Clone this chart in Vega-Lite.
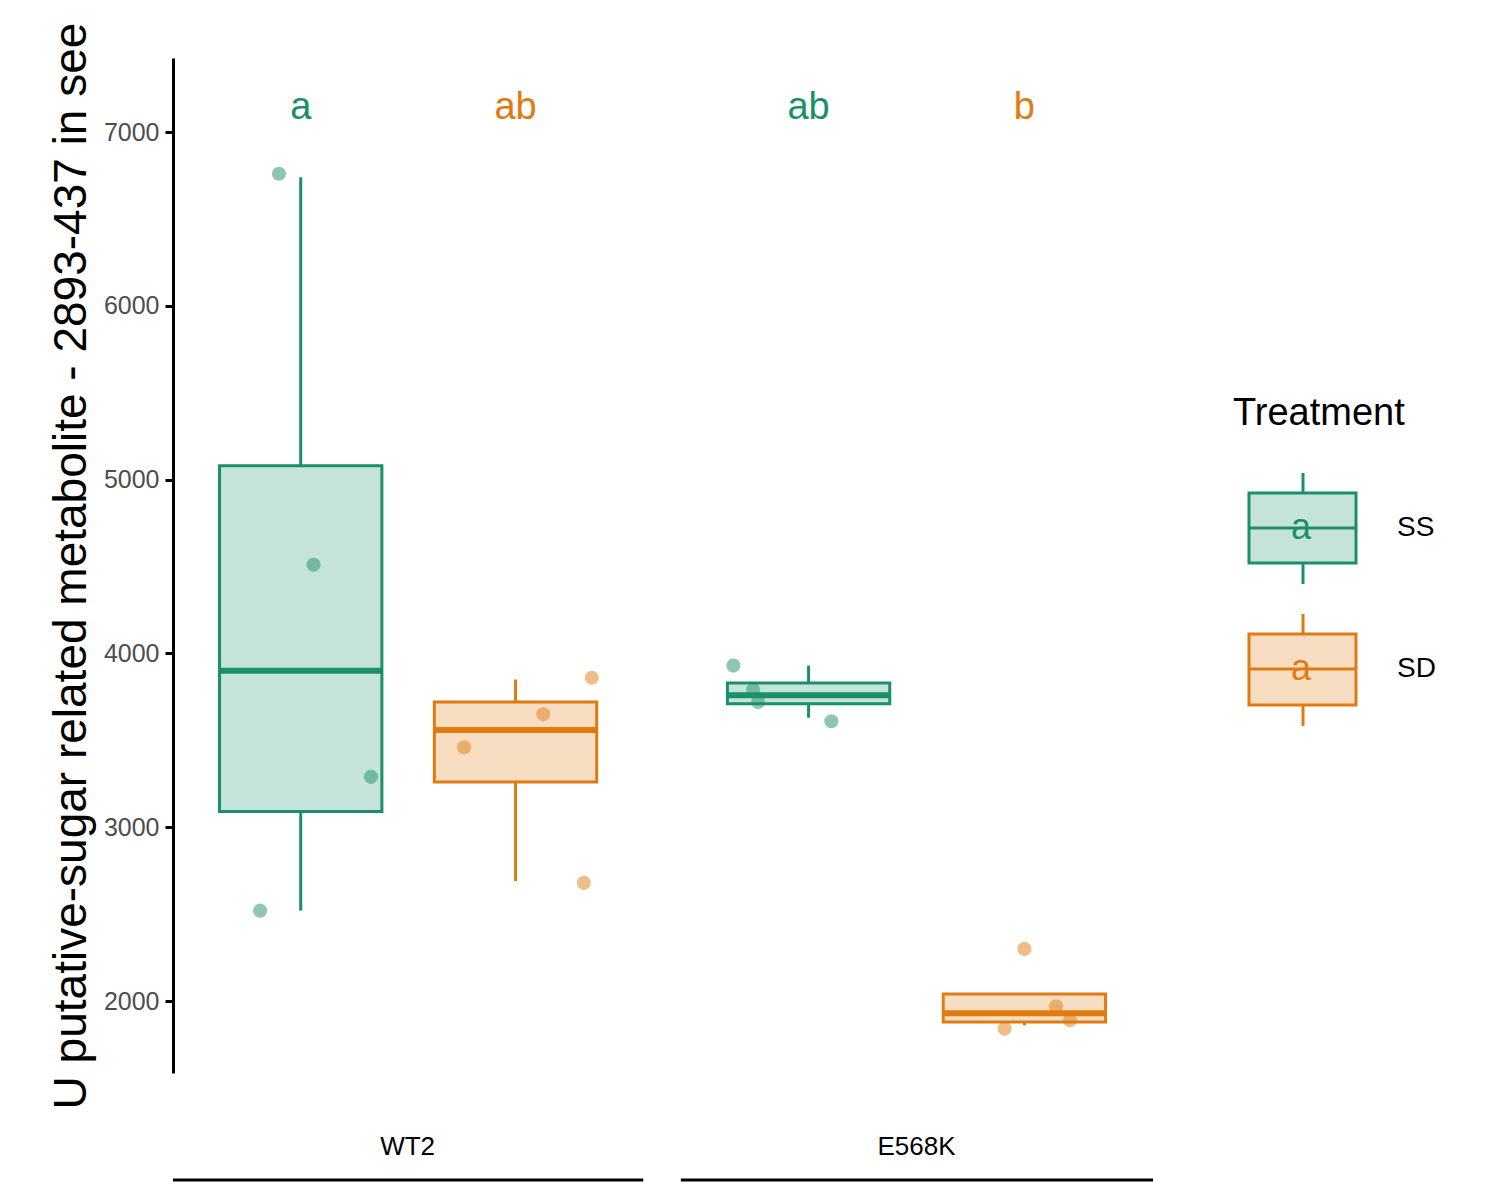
{
  "$schema": "https://vega.github.io/schema/vega-lite/v6.json",
  "background": "white",
  "padding": {"left": 48, "top": 22, "right": 0, "bottom": 0},
  "config": {"view": {"stroke": null}, "font": "Liberation Sans", "concat": {"spacing": 0}},
  "datasets": {
    "boxes": [
      {"group": "WT2", "trt": "SS", "x": 129, "xl": 47, "xr": 211, "lo": 2520, "q1": 3090, "med": 3900, "q3": 5080, "hi": 6740, "letter": "a"},
      {"group": "WT2", "trt": "SD", "x": 346, "xl": 264, "xr": 428, "lo": 2690, "q1": 3260, "med": 3560, "q3": 3720, "hi": 3850, "letter": "ab"},
      {"group": "E568K", "trt": "SS", "x": 642, "xl": 560, "xr": 724, "lo": 3630, "q1": 3710, "med": 3760, "q3": 3830, "hi": 3930, "letter": "ab"},
      {"group": "E568K", "trt": "SD", "x": 860, "xl": 778, "xr": 942, "lo": 1860, "q1": 1880, "med": 1930, "q3": 2040, "hi": 2040, "letter": "b"}
    ],
    "points": [
      {"trt": "SS", "x": 107, "y": 6760}, {"trt": "SS", "x": 142, "y": 4510}, {"trt": "SS", "x": 200, "y": 3290}, {"trt": "SS", "x": 88, "y": 2520},
      {"trt": "SD", "x": 423, "y": 3860}, {"trt": "SD", "x": 374, "y": 3650}, {"trt": "SD", "x": 294, "y": 3460}, {"trt": "SD", "x": 415, "y": 2680},
      {"trt": "SS", "x": 566, "y": 3930}, {"trt": "SS", "x": 586, "y": 3790}, {"trt": "SS", "x": 591, "y": 3720}, {"trt": "SS", "x": 665, "y": 3610},
      {"trt": "SD", "x": 860, "y": 2300}, {"trt": "SD", "x": 892, "y": 1970}, {"trt": "SD", "x": 840, "y": 1840}, {"trt": "SD", "x": 906, "y": 1890}
    ],
    "strip": [
      {"label": "WT2", "c": 237, "l": 0, "r": 475},
      {"label": "E568K", "c": 751, "l": 513, "r": 990}
    ],
    "legend": [
      {"trt": "SS", "bl": 435, "bt": 505, "wl": 415, "wt": 526, "med": 470},
      {"trt": "SD", "bl": 576, "bt": 647, "wl": 556, "wt": 668, "med": 611}
    ]
  },
  "hconcat": [
    {
      "vconcat": [
        {
          "width": 990,
          "height": 1015,
          "encoding": {
            "color": {"field": "trt", "type": "nominal", "legend": null, "scale": {"domain": ["SS", "SD"], "range": ["#1b8f6a", "#e07b10"]}}
          },
          "layer": [
            {
              "data": {"name": "boxes"},
              "mark": {"type": "rule", "strokeWidth": 3},
              "encoding": {
                "x": {"field": "x", "type": "quantitative", "scale": {"domain": [0, 990]}, "axis": null},
                "y": {"field": "lo", "type": "quantitative", "scale": {"domain": [1586, 7426], "nice": false, "zero": false},
                  "axis": {"values": [2000, 3000, 4000, 5000, 6000, 7000], "format": "d", "grid": false, "domainWidth": 3, "domainColor": "black", "tickColor": "black", "tickWidth": 3, "tickSize": 8, "labelFontSize": 25, "labelColor": "#4d4d4d", "labelPadding": 6, "title": "U putative-sugar related metabolite - 2893-437 in see", "titleFontSize": 46, "titleFontWeight": "normal", "titleColor": "black", "titlePadding": 8}},
                "y2": {"field": "q1"}
              }
            },
            {
              "data": {"name": "boxes"},
              "mark": {"type": "rule", "strokeWidth": 3},
              "encoding": {
                "x": {"field": "x", "type": "quantitative"},
                "y": {"field": "q3", "type": "quantitative"},
                "y2": {"field": "hi"}
              }
            },
            {
              "data": {"name": "boxes"},
              "mark": {"type": "rect", "fillOpacity": 0.25, "strokeWidth": 3},
              "encoding": {
                "x": {"field": "xl", "type": "quantitative"},
                "x2": {"field": "xr"},
                "y": {"field": "q1", "type": "quantitative"},
                "y2": {"field": "q3"},
                "fill": {"field": "trt", "type": "nominal", "legend": null, "scale": {"domain": ["SS", "SD"], "range": ["#1b8f6a", "#e07b10"]}},
                "stroke": {"field": "trt", "type": "nominal", "legend": null, "scale": {"domain": ["SS", "SD"], "range": ["#1b8f6a", "#e07b10"]}}
              }
            },
            {
              "data": {"name": "boxes"},
              "mark": {"type": "rule", "strokeWidth": 6},
              "encoding": {
                "x": {"field": "xl", "type": "quantitative"},
                "x2": {"field": "xr"},
                "y": {"field": "med", "type": "quantitative"}
              }
            },
            {
              "data": {"name": "points"},
              "mark": {"type": "circle", "size": 200, "opacity": 0.5},
              "encoding": {
                "x": {"field": "x", "type": "quantitative"},
                "y": {"field": "y", "type": "quantitative"}
              }
            },
            {
              "data": {"name": "boxes"},
              "mark": {"type": "text", "fontSize": 38, "baseline": "middle"},
              "encoding": {
                "x": {"field": "x", "type": "quantitative"},
                "y": {"datum": 7140, "type": "quantitative"},
                "text": {"field": "letter"}
              }
            }
          ]
        },
        {
          "width": 990,
          "height": 160,
          "layer": [
            {
              "data": {"name": "strip"},
              "mark": {"type": "text", "fontSize": 26, "baseline": "middle"},
              "encoding": {
                "x": {"field": "c", "type": "quantitative", "scale": {"domain": [0, 990]}, "axis": null},
                "y": {"datum": 38, "type": "quantitative", "scale": {"domain": [0, 160], "reverse": true}, "axis": null},
                "text": {"field": "label"}
              }
            },
            {
              "data": {"name": "strip"},
              "mark": {"type": "rule", "strokeWidth": 3, "color": "black"},
              "encoding": {
                "x": {"field": "l", "type": "quantitative"},
                "x2": {"field": "r"},
                "y": {"datum": 71, "type": "quantitative"}
              }
            },
            {
              "data": {"values": [{"t": "kruskal test=0.03"}]},
              "mark": {"type": "text", "fontSize": 26, "align": "right", "baseline": "middle"},
              "encoding": {
                "x": {"datum": 990, "type": "quantitative"},
                "y": {"datum": 121, "type": "quantitative"},
                "text": {"field": "t"}
              }
            }
          ]
        }
      ]
    },
    {
      "width": 300,
      "height": 1015,
      "layer": [
        {
          "data": {"values": [{"t": "Treatment"}]},
          "mark": {"type": "text", "fontSize": 38, "align": "left", "baseline": "middle", "color": "black"},
          "encoding": {
            "x": {"datum": 60, "type": "quantitative", "scale": {"domain": [-10, 290], "nice": false, "zero": false}, "axis": null},
            "y": {"datum": 356, "type": "quantitative", "scale": {"domain": [0, 1015], "reverse": true, "nice": false, "zero": false}, "axis": null},
            "text": {"field": "t"}
          }
        },
        {
          "data": {"name": "legend"},
          "mark": {"type": "rule", "strokeWidth": 3},
          "encoding": {
            "x": {"datum": 130, "type": "quantitative"},
            "y": {"field": "wl", "type": "quantitative"},
            "y2": {"field": "wt"},
            "color": {"field": "trt", "type": "nominal", "legend": null, "scale": {"domain": ["SS", "SD"], "range": ["#1b8f6a", "#e07b10"]}}
          }
        },
        {
          "data": {"name": "legend"},
          "mark": {"type": "rect", "fill": "white"},
          "encoding": {
            "x": {"datum": 76, "type": "quantitative"},
            "x2": {"datum": 183},
            "y": {"field": "bl", "type": "quantitative"},
            "y2": {"field": "bt"}
          }
        },
        {
          "data": {"name": "legend"},
          "mark": {"type": "rect", "fillOpacity": 0.25, "strokeWidth": 3},
          "encoding": {
            "x": {"datum": 76, "type": "quantitative"},
            "x2": {"datum": 183},
            "y": {"field": "bl", "type": "quantitative"},
            "y2": {"field": "bt"},
            "fill": {"field": "trt", "type": "nominal", "legend": null, "scale": {"domain": ["SS", "SD"], "range": ["#1b8f6a", "#e07b10"]}},
            "stroke": {"field": "trt", "type": "nominal", "legend": null, "scale": {"domain": ["SS", "SD"], "range": ["#1b8f6a", "#e07b10"]}}
          }
        },
        {
          "data": {"name": "legend"},
          "mark": {"type": "rule", "strokeWidth": 3},
          "encoding": {
            "x": {"datum": 76, "type": "quantitative"},
            "x2": {"datum": 183},
            "y": {"field": "med", "type": "quantitative"},
            "color": {"field": "trt", "type": "nominal", "legend": null, "scale": {"domain": ["SS", "SD"], "range": ["#1b8f6a", "#e07b10"]}}
          }
        },
        {
          "data": {"name": "legend"},
          "mark": {"type": "text", "fontSize": 36, "baseline": "middle", "text": "a"},
          "encoding": {
            "x": {"datum": 128, "type": "quantitative"},
            "y": {"field": "med", "type": "quantitative"},
            "color": {"field": "trt", "type": "nominal", "legend": null, "scale": {"domain": ["SS", "SD"], "range": ["#1b8f6a", "#e07b10"]}}
          }
        },
        {
          "data": {"name": "legend"},
          "mark": {"type": "text", "fontSize": 28, "align": "left", "baseline": "middle", "color": "black"},
          "encoding": {
            "x": {"datum": 224, "type": "quantitative"},
            "y": {"field": "med", "type": "quantitative"},
            "text": {"field": "trt"}
          }
        }
      ]
    }
  ]
}
